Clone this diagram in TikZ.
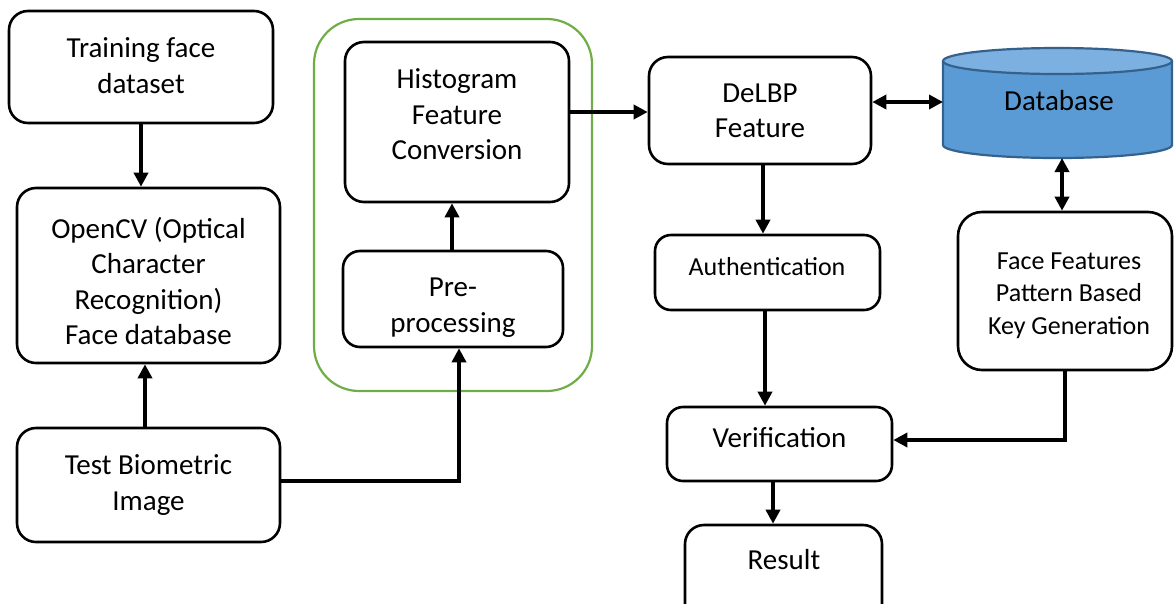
\documentclass[tikz,border=0pt]{standalone}
\usepackage{fontspec}
\setmainfont{Carlito}
\usetikzlibrary{arrows.meta}
\definecolor{grn}{RGB}{112,173,71}
\definecolor{dbbody}{RGB}{91,155,213}
\definecolor{dbtop}{RGB}{124,176,224}
\definecolor{dbline}{RGB}{52,98,140}
\begin{document}
\begin{tikzpicture}[x=1pt,y=-1pt,
  box/.style={draw, line width=2.6pt, rounded corners=19pt, inner sep=0pt, fill=white},
  txt/.style={align=center, inner sep=0pt, font=\fontsize{29}{35.4}\selectfont},
  txts/.style={align=center, inner sep=0pt, font=\fontsize{26}{32.5}\selectfont},
  arr/.style={line width=4pt, -{Triangle[length=14pt,width=14pt]}},
  darr/.style={line width=4pt, {Triangle[length=14pt,width=14pt]}-{Triangle[length=14pt,width=14pt]}}]
\useasboundingbox (0,0) rectangle (1174,603);
\clip (0,0) rectangle (1174,603);
% green group
\node[draw=grn, line width=2.2pt, rounded corners=45pt, minimum width=278pt, minimum height=372pt, inner sep=0pt] (grp) at (453,205) {};
% boxes
\node[box, minimum width=264pt, minimum height=112pt] (tr) at (141,67) {};
\node[box, minimum width=263pt, minimum height=175pt] (ocv) at (148.5,275.5) {};
\node[box, minimum width=263pt, minimum height=114pt] (test) at (148.5,485) {};
\node[box, minimum width=224pt, minimum height=160pt] (hist) at (457,122) {};
\node[box, rounded corners=17pt, minimum width=220pt, minimum height=96pt] (pre) at (453,299) {};
\node[box, minimum width=222pt, minimum height=107pt] (delbp) at (760,110.5) {};
\node[box, rounded corners=16pt, minimum width=225pt, minimum height=75pt] (auth) at (767.5,272.5) {};
\node[box, rounded corners=16pt, minimum width=225pt, minimum height=74pt] (verif) at (779.5,444) {};
\node[box, minimum width=197pt, minimum height=100pt] (res) at (783.5,575) {};
\node[box, rounded corners=24pt, minimum width=214pt, minimum height=158pt] (face) at (1065,291) {};
% database cylinder
\path[fill=dbbody, draw=dbline, line width=2.2pt] (943,61) -- (943,145) arc[start angle=180, end angle=0, x radius=114.5, y radius=13] -- (1172,61);
\draw[fill=dbtop, draw=dbline, line width=2.2pt] (1057.5,61) ellipse[x radius=114.5, y radius=13];
\coordinate (dbw) at (943,102);
\coordinate (dbs) at (1062,158);
% texts
\node[txt] (trT) at (141,65.5) {Training face\\dataset};
\node[txt] (ocvT) at (148.5,281) {OpenCV (Optical\\Character\\Recognition)\\Face database};
\node[txt] (testT) at (148.5,485) {Test Biometric\\Image};
\node[txt] (histT) at (457,114.5) {Histogram\\Feature\\Conversion};
\node[txt] (preT) at (453,307.5) {Pre-\\processing};
\node[txt] (delbpT) at (760,110.5) {DeLBP\\Feature};
\node[txt] (dbT) at (1059,101) {Database};
\node[txts] (authT) at (767,267) {Authentication};
\node[txt] (verifT) at (779.5,438) {Verification};
\node[txt] (resT) at (784,560) {Result};
\node[txts] (faceT) at (1069,295.5) {Face Features\\Pattern Based\\Key Generation};
% connectors
\draw[arr] (tr.south) -- (tr.south |- ocv.north);
\draw[arr] ([xshift=-3.5pt]test.north) -- ([xshift=-3.5pt]test.north |- ocv.south);
\draw[arr] ([yshift=4pt]test.east) -| ([xshift=6pt]pre.south);
\draw[arr] ([xshift=-1pt]pre.north) -- ([xshift=-1pt]pre.north |- hist.south);
\draw[arr] ([yshift=10pt]hist.east) -- ([yshift=10pt]hist.east -| delbp.west);
\draw[darr] (delbp.east |- dbw) -- (dbw);
\draw[darr] (dbs) -- (dbs |- face.north);
\draw[arr] ([xshift=3pt]delbp.south) -- ([xshift=3pt]delbp.south |- auth.north);
\draw[arr] ([xshift=-2.5pt]auth.south) -- ([xshift=-2.5pt]auth.south |- verif.north);
\draw[arr] ([xshift=-6.5pt]verif.south) -- ([xshift=-6.5pt]verif.south |- res.north);
\draw[arr] (face.south) |- ([yshift=4pt]verif.east);
\end{tikzpicture}
\end{document}
